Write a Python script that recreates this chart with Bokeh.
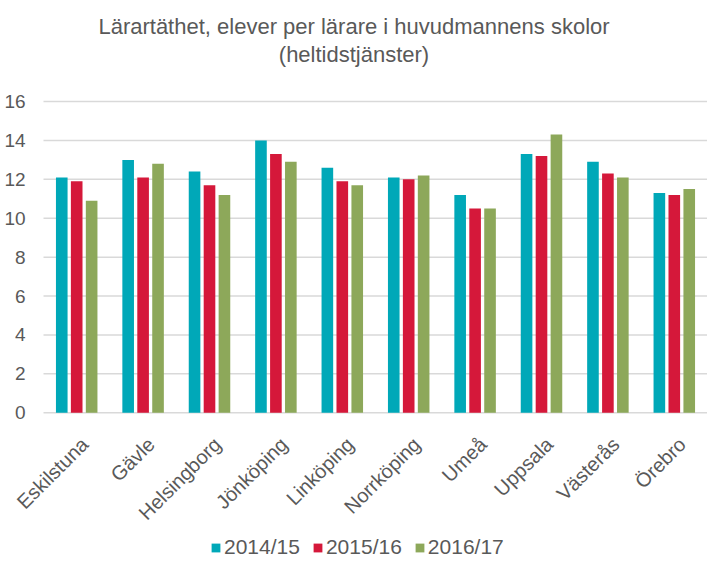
import math
from bokeh.plotting import figure
from bokeh.models import ColumnDataSource, Range1d, Legend, LegendItem, Title
from bokeh.core.properties import value
from bokeh.transform import dodge
from bokeh.embed import file_html
from bokeh.resources import INLINE

categories = ["Eskilstuna", "Gävle", "Helsingborg", "Jönköping", "Linköping",
              "Norrköping", "Umeå", "Uppsala", "Västerås", "Örebro"]
series_names = ["2014/15", "2015/16", "2016/17"]
v1415 = [12.1, 13.0, 12.4, 14.0, 12.6, 12.1, 11.2, 13.3, 12.9, 11.3]
v1516 = [11.9, 12.1, 11.7, 13.3, 11.9, 12.0, 10.5, 13.2, 12.3, 11.2]
v1617 = [10.9, 12.8, 11.2, 12.9, 11.7, 12.2, 10.5, 14.3, 12.1, 11.5]
y_ticks = [0, 2, 4, 6, 8, 10, 12, 14, 16]
y_tick_labels = [str(t) for t in y_ticks]
colors = ["#00A8B8", "#D5183A", "#8DA85A"]

n = len(categories)
xc = [i + 0.5 for i in range(n)]          # category centres on a numeric scale
src = ColumnDataSource(dict(cat=categories, xc=xc, a=v1415, b=v1516, c=v1617))
tick_src = ColumnDataSource(dict(t=y_ticks, lab=y_tick_labels))

TXT = "#595959"
FONT = "Liberation Sans"
X_MIN = -0.6476   # room left of the first category for the value labels
Y_MIN = -7.6      # room below the axis for the rotated labels and legend
Y_MAX = 16.62     # a little headroom so the top tick label is not clipped
LABEL_Y = -1.45
LABEL_DX = 0.12
TICK_X = -0.27

p = figure(frame_width=707, frame_height=471, x_range=Range1d(X_MIN, n),
           y_range=Range1d(Y_MIN, Y_MAX), output_backend="svg", toolbar_location=None,
           min_border_left=0, min_border_right=0, min_border_top=0, min_border_bottom=0)
p.xaxis.visible = False
p.yaxis.visible = False
p.grid.visible = False
p.outline_line_color = None

# horizontal gridlines
p.segment(x0=0, x1=n, y0="t", y1="t", source=tick_src, line_color="#d9d9d9", line_width=1.5)

r1 = p.vbar(x=dodge("xc", -0.225), top="a", width=0.175, source=src,
            fill_color=colors[0], line_color=None)
r2 = p.vbar(x=dodge("xc", 0.0), top="b", width=0.175, source=src,
            fill_color=colors[1], line_color=None)
r3 = p.vbar(x=dodge("xc", 0.225), top="c", width=0.175, source=src,
            fill_color=colors[2], line_color=None)

# y tick labels
p.text(x=TICK_X, y="t", text="lab", source=tick_src, text_align="right",
       text_baseline="middle", text_font=value(FONT), text_font_size="19px", text_color=TXT)

# category labels
p.text(x=dodge("xc", LABEL_DX), y=LABEL_Y, text="cat", source=src, angle=math.pi / 4,
       text_align="right", text_baseline="middle", text_font=value(FONT),
       text_font_size="20px", text_color=TXT)

legend = Legend(items=[LegendItem(label=series_names[0], renderers=[r1]),
                       LegendItem(label=series_names[1], renderers=[r2]),
                       LegendItem(label=series_names[2], renderers=[r3])],
                orientation="horizontal", location=(210, 1),
                label_text_font=FONT, label_text_font_size="21px", label_text_color=TXT,
                glyph_width=11, glyph_height=11, spacing=12, label_standoff=3,
                border_line_color=None, background_fill_alpha=0, padding=0, margin=0)
p.add_layout(legend)

spacer = Title(text=" ", text_font_size="10px", standoff=10)
t2 = Title(text="(heltidstjänster)", align="center", text_font=FONT, text_font_size="22px",
           text_color=TXT, text_font_style="normal", standoff=0, offset=20)
t1 = Title(text="Lärartäthet, elever per lärare i huvudmannens skolor", align="center",
           text_font=FONT, text_font_size="22px", text_color=TXT, text_font_style="normal",
           standoff=2, offset=20)
top_spacer = Title(text=" ", text_font_size="4px", standoff=3)
p.add_layout(spacer, "above")
p.add_layout(t2, "above")
p.add_layout(t1, "above")
p.add_layout(top_spacer, "above")

open("out.html", "w").write(file_html(p, INLINE))
